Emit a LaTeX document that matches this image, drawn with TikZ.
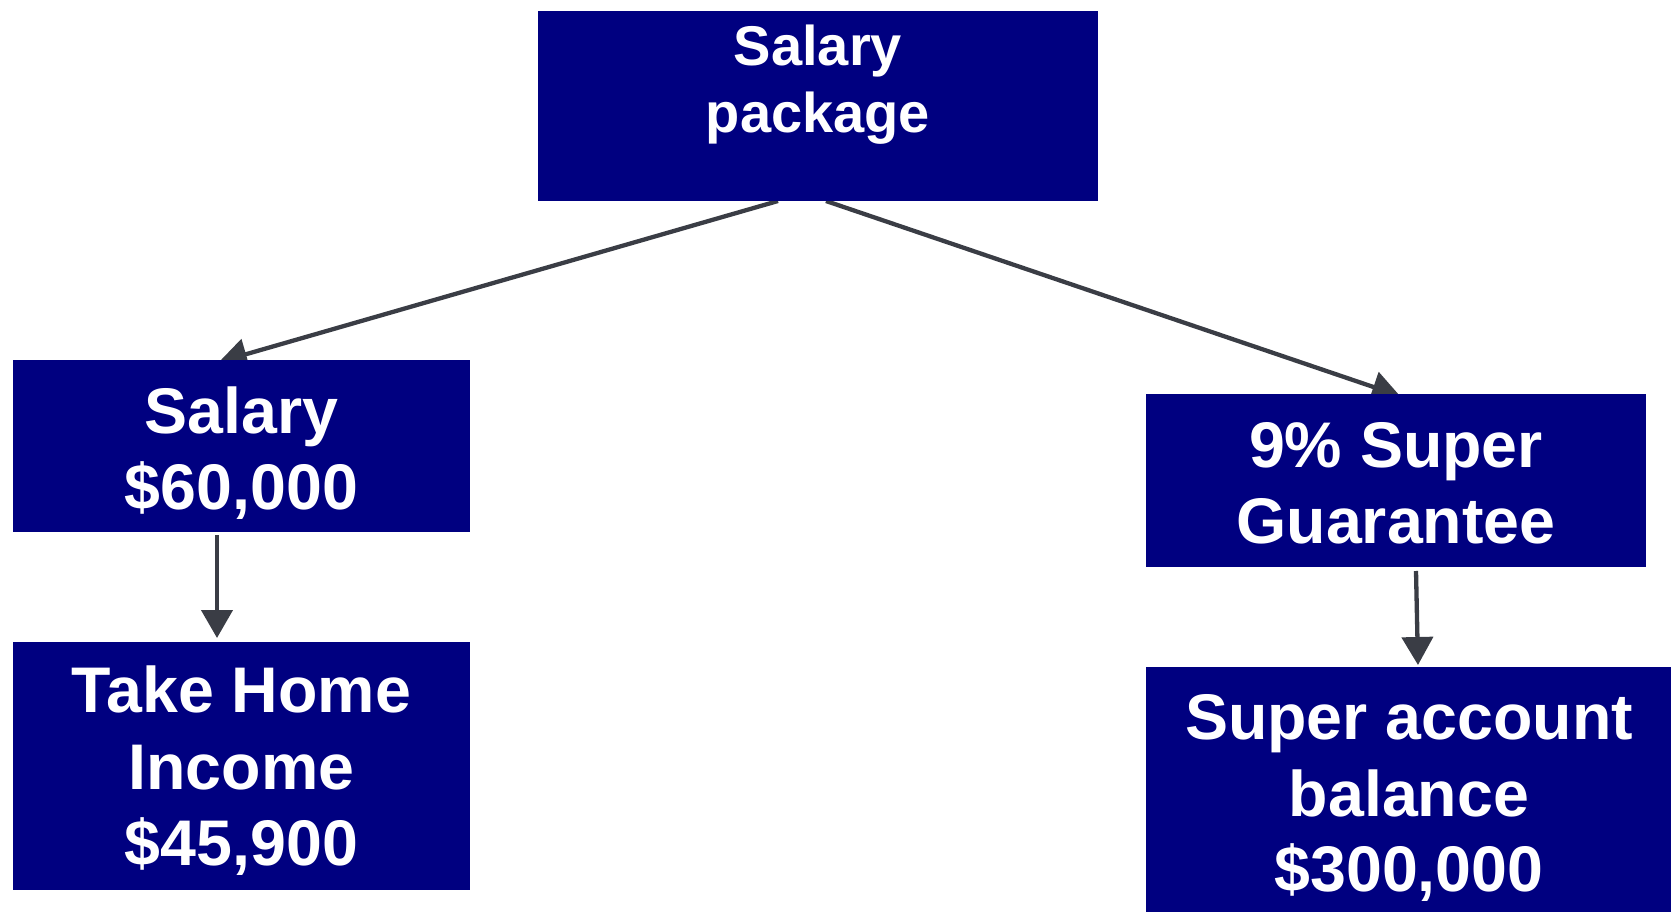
\documentclass[tikz,border=0pt]{standalone}
\usepackage{fontspec}
\setmainfont{Liberation Sans}
\usetikzlibrary{arrows.meta}
\definecolor{navy}{HTML}{000080}
\definecolor{arrowgray}{HTML}{3A3D45}
\pgfdeclarelayer{bg}
\pgfsetlayers{bg,main}
\tikzset{
  box/.style={fill=navy, draw=none, inner sep=0pt, outer sep=0pt},
  lbl/.style={text=white, font=\bfseries\fontsize{64.5}{76}\selectfont, anchor=base, inner sep=0pt, outer sep=0pt},
  toplbl/.style={lbl, font=\bfseries\fontsize{56}{67}\selectfont},
  conn/.style={draw=arrowgray, line width=4.3pt, -{Triangle[width=31pt,length=28pt]}}
}
\begin{document}
\begin{tikzpicture}[x=1pt,y=-1pt]
\useasboundingbox (0,0) rectangle (1671,912);
% boxes
\node[box, minimum width=560pt, minimum height=190pt] (pkg) at (818,106) {};
\node[box, minimum width=457pt, minimum height=172pt] (sal) at (241.5,446) {};
\node[box, minimum width=457pt, minimum height=248pt] (thi) at (241.5,766) {};
\node[box, minimum width=500pt, minimum height=173pt] (sg) at (1396,480.5) {};
\node[box, minimum width=525pt, minimum height=245pt] (sab) at (1408.5,789.5) {};
% labels
\node[toplbl] (pkg1) at (818,66) {Salary};
\node[toplbl] (pkg2) at (818,133) {package};
\node[lbl] (sal1) at (241.5,433) {Salary};
\node[lbl] (sal2) at (241.5,509) {\$60,000};
\node[lbl] (thi1) at (241.5,712) {Take Home};
\node[lbl] (thi2) at (241.5,789) {Income};
\node[lbl] (thi3) at (241.5,865) {\$45,900};
\node[lbl] (sg1) at (1396,467) {9\% Super};
\node[lbl] (sg2) at (1396,543) {Guarantee};
\node[lbl] (sab1) at (1409,739) {Super account};
\node[lbl] (sab2) at (1409,816) {balance};
\node[lbl] (sab3) at (1409,891) {\$300,000};
% connectors
\begin{pgfonlayer}{bg}
\draw[conn] ([xshift=-40pt]pkg.south) -- ([xshift=-22.5pt,yshift=-2pt]sal.north);
\draw[conn] ([xshift=8pt]pkg.south) -- ([xshift=4pt,yshift=-2pt]sg.north);
\draw[conn] ([xshift=-24.5pt,yshift=-3pt]sal.south) -- ([xshift=-24.5pt,yshift=4pt]thi.north);
\draw[conn] ([xshift=20pt,yshift=-4pt]sg.south) -- ([xshift=9.5pt,yshift=2pt]sab.north);
\end{pgfonlayer}
\end{tikzpicture}
\end{document}
